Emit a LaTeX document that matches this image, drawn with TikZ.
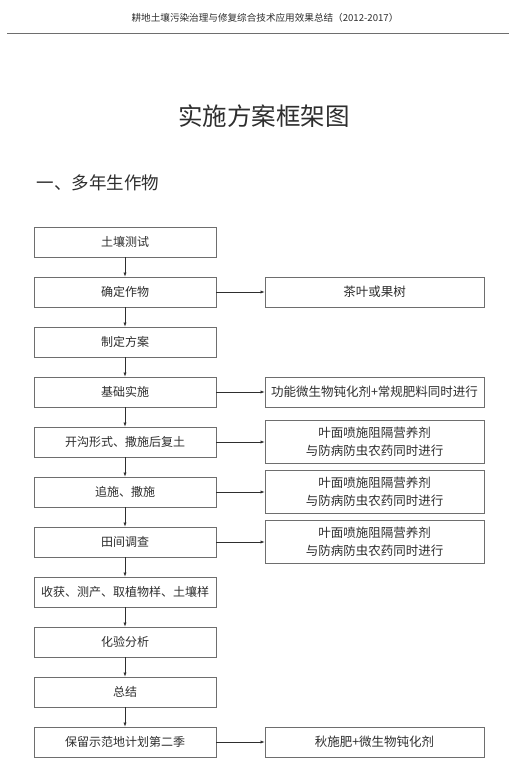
\documentclass[tikz,border=0pt]{standalone}
\usepackage{fontspec}
\setmainfont{Noto Sans CJK SC}
\newfontfamily\cjk{Noto Sans CJK SC}
\usetikzlibrary{arrows.meta}
\definecolor{txt}{HTML}{2E2E2E}
\definecolor{edge}{HTML}{6E6E6E}
\tikzset{
  lbox/.style={draw=edge, line width=0.9pt, minimum width=182pt, minimum height=30pt, inner sep=0pt, text=txt, font=\cjk\fontsize{12}{14}\selectfont, align=center},
  rbox/.style={draw=edge, line width=0.9pt, minimum width=219pt, minimum height=30pt, inner sep=0pt, text=txt, font=\cjk\fontsize{12.5}{18}\selectfont, align=center},
  rbox2/.style={rbox, minimum height=43pt},
  conn/.style={draw=txt, line width=0.6pt, -{Latex[length=4pt,width=3.2pt]}}
}
\begin{document}
\begin{tikzpicture}[x=1pt,y=-1pt]
\useasboundingbox (0,0) rectangle (529,779);
\fill[white] (0,0) rectangle (529,779);
% header
\node[font=\cjk\fontsize{9.6}{11}\selectfont, text=txt] (hdr) at (265,18) {耕地土壤污染治理与修复综合技术应用效果总结（2012-2017）};
\coordinate (hl) at (7,33);
\coordinate (hr) at (509,33);
\draw[line width=0.8pt, edge] (hl) -- (hr);
% title
\node[font=\cjk\fontsize{24.5}{28}\selectfont, text=txt] (title) at (264,116) {实施方案框架图};
\node[font=\cjk\fontsize{17.5}{20}\selectfont, text=txt, anchor=west] (sec) at (33,183) {一、多年生作物};
% left boxes
\node[lbox] (a1) at (125,242) {土壤测试};
\node[lbox] (a2) at (125,292) {确定作物};
\node[lbox] (a3) at (125,342) {制定方案};
\node[lbox] (a4) at (125,392) {基础实施};
\node[lbox] (a5) at (125,442) {开沟形式、撒施后复土};
\node[lbox] (a6) at (125,492) {追施、撒施};
\node[lbox] (a7) at (125,542) {田间调查};
\node[lbox] (a8) at (125,592) {收获、测产、取植物样、土壤样};
\node[lbox] (a9) at (125,642) {化验分析};
\node[lbox] (a10) at (125,692) {总结};
\node[lbox] (a11) at (125,742) {保留示范地计划第二季};
% right boxes
\node[rbox] (b2) at (374.5,292) {茶叶或果树};
\node[rbox] (b4) at (374.5,392) {功能微生物钝化剂+常规肥料同时进行};
\node[rbox2] (b5) at (374.5,442) {叶面喷施阻隔营养剂\\与防病防虫农药同时进行};
\node[rbox2] (b6) at (374.5,492) {叶面喷施阻隔营养剂\\与防病防虫农药同时进行};
\node[rbox2] (b7) at (374.5,542) {叶面喷施阻隔营养剂\\与防病防虫农药同时进行};
\node[rbox] (b11) at (374.5,742) {秋施肥+微生物钝化剂};
% vertical connectors
\foreach \i/\j in {a1/a2,a2/a3,a3/a4,a4/a5,a5/a6,a6/a7,a7/a8,a8/a9,a9/a10,a10/a11}
  \draw[conn] (\i) -- (\j);
% horizontal connectors
\foreach \i/\j in {a2/b2,a4/b4,a5/b5,a6/b6,a7/b7,a11/b11}
  \draw[conn] (\i) -- (\j);
\end{tikzpicture}
\end{document}
